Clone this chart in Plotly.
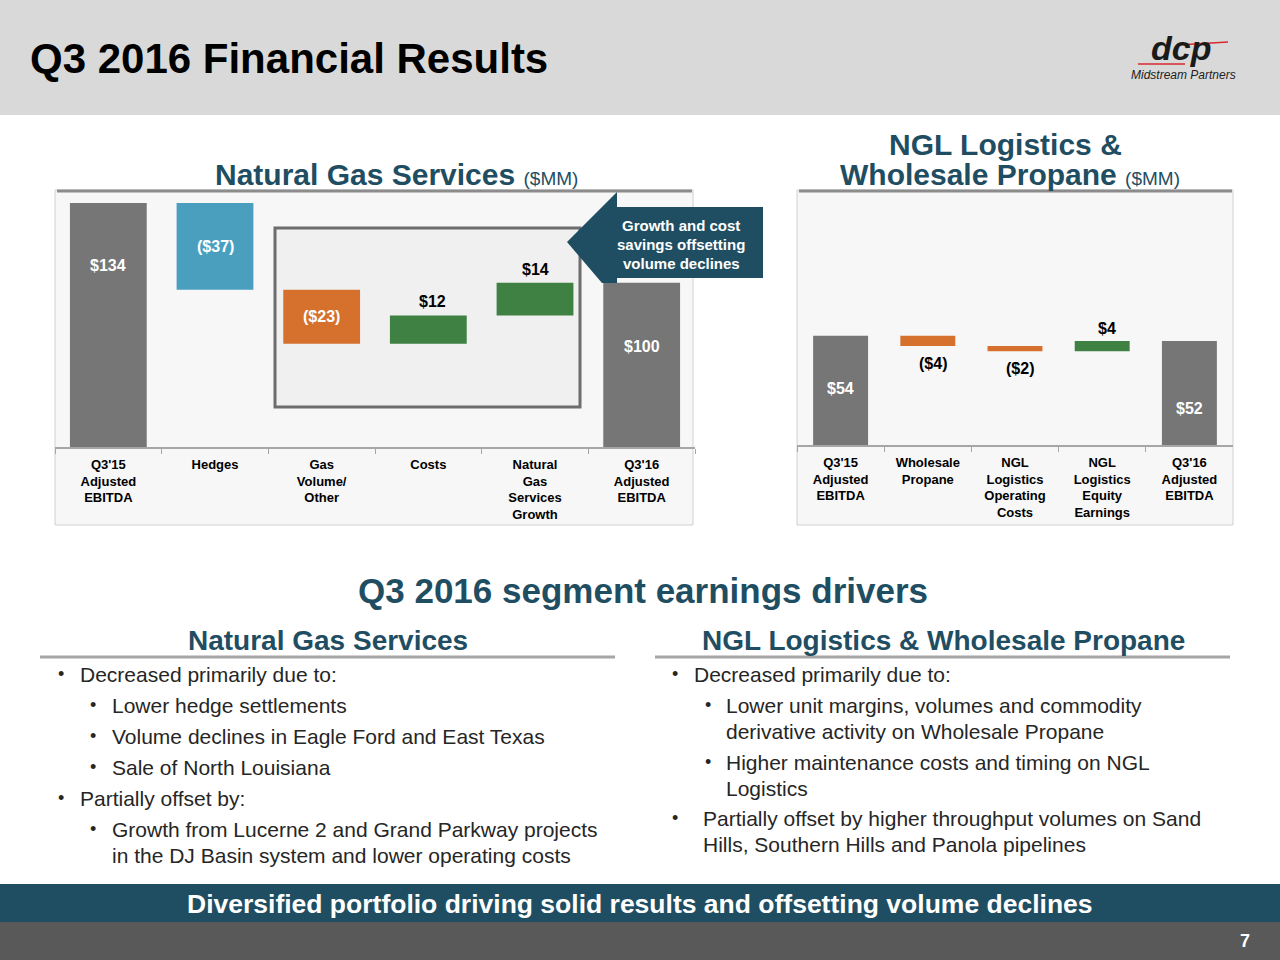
import plotly.graph_objects as go

# ---------------- data ----------------
ngs_categories = ["Q3'15<br>Adjusted<br>EBITDA", "Hedges", "Gas<br>Volume/<br>Other", "Costs",
                  "Natural<br>Gas<br>Services<br>Growth", "Q3'16<br>Adjusted<br>EBITDA"]
ngs_values = [134, -37, -23, 12, 14, 100]
ngs_measure = ["absolute", "relative", "relative", "relative", "relative", "total"]
ngs_labels = ["$134", "($37)", "($23)", "$12", "$14", "$100"]

ngl_categories = ["Q3'15<br>Adjusted<br>EBITDA", "Wholesale<br>Propane", "NGL<br>Logistics<br>Operating<br>Costs",
                  "NGL<br>Logistics<br>Equity<br>Earnings", "Q3'16<br>Adjusted<br>EBITDA"]
ngl_values = [54, -4, -2, 4, 52]
ngl_measure = ["absolute", "relative", "relative", "relative", "total"]
ngl_labels = ["$54", "($4)", "($2)", "$4", "$52"]

ngs_bullets = [
    (0, "Decreased primarily due to:"),
    (1, "Lower hedge settlements"),
    (1, "Volume declines in Eagle Ford and East Texas"),
    (1, "Sale of North Louisiana"),
    (0, "Partially offset by:"),
    (1, "Growth from Lucerne 2 and Grand Parkway projects"),
    (2, "in the DJ Basin system and lower operating costs"),
]
ngl_bullets = [
    (0, "Decreased primarily due to:"),
    (1, "Lower unit margins, volumes and commodity"),
    (2, "derivative activity on Wholesale Propane"),
    (1, "Higher maintenance costs and timing on NGL"),
    (2, "Logistics"),
    (3, "Partially offset by higher throughput volumes on Sand"),
    (4, "Hills, Southern Hills and Panola pipelines"),
]

# ---------------- styles ----------------
GRAY = "#767676"
BLUE = "#4a9fbf"
ORANGE = "#d5702d"
GREEN = "#3f8143"
TEAL = "#1f4e63"
FONT = "Liberation Sans, Arial, sans-serif"

ngs_colors = [GRAY, BLUE, ORANGE, GREEN, GREEN, GRAY]
ngs_text_colors = ["white", "white", "white", "black", "black", "white"]
ngs_shift = [-63, 0, 0, 14, 13, -64]   # pixel offset of labels
ngs_anchor = ["top", "mid", "mid", "top", "top", "top"]

ngl_colors = [GRAY, ORANGE, ORANGE, GREEN, GRAY]
ngl_text_colors = ["white", "black", "black", "black", "white"]
ngl_shift = [-53, -17, -17, 12, -68]
ngl_anchor = ["top", "bottom", "bottom", "top", "top"]

W, H = 1280, 960


def px(x):
    return x / W


def py(y):
    return 1 - y / H


def waterfall(values, measure):
    bases, heights, tops, bottoms = [], [], [], []
    run = 0
    for v, m in zip(values, measure):
        if m == "absolute":
            run = v
            b, t = 0, v
        elif m == "total":
            b, t = 0, v
        else:
            start = run
            run += v
            b, t = min(start, run), max(start, run)
        bases.append(b)
        heights.append(t - b)
        tops.append(t)
        bottoms.append(b)
    return bases, heights, tops, bottoms


fig = go.Figure()

nb, nh, nt, nbot = waterfall(ngs_values, ngs_measure)
fig.add_trace(go.Bar(x=ngs_categories, y=nh, base=nb, marker=dict(color=ngs_colors, line=dict(width=0)),
                     width=0.72, xaxis="x", yaxis="y", hoverinfo="skip", showlegend=False))
lb, lh, lt, lbot = waterfall(ngl_values, ngl_measure)
fig.add_trace(go.Bar(x=ngl_categories, y=lh, base=lb, marker=dict(color=ngl_colors, line=dict(width=0)),
                     width=0.63, xaxis="x2", yaxis="y2", hoverinfo="skip", showlegend=False))

annotations = []
shapes = []


def ann(x, y, text, size, color="#262626", bold=False, xanchor="center", yanchor="middle", italic=False, **kw):
    t = f"<b>{text}</b>" if bold else text
    if italic:
        t = f"<i>{t}</i>"
    annotations.append(dict(x=px(x), y=py(y), xref="paper", yref="paper", text=t, showarrow=False,
                            xanchor=xanchor, yanchor=yanchor,
                            font=dict(family=FONT, size=size, color=color), **kw))


def rect(x0, y0, x1, y1, fill, line_color=None, line_width=0, layer="below"):
    shapes.append(dict(type="rect", xref="paper", yref="paper", x0=px(x0), x1=px(x1), y0=py(y1), y1=py(y0),
                       fillcolor=fill, line=dict(color=line_color or fill, width=line_width), layer=layer))


def line(x0, y0, x1, y1, color, width, layer="below"):
    shapes.append(dict(type="line", xref="paper", yref="paper", x0=px(x0), x1=px(x1), y0=py(y0), y1=py(y1),
                       line=dict(color=color, width=width), layer=layer))


# bar value labels
for i, lab in enumerate(ngs_labels):
    yv = nt[i] if ngs_anchor[i] == "top" else (nbot[i] if ngs_anchor[i] == "bottom" else (nt[i] + nbot[i]) / 2)
    annotations.append(dict(x=ngs_categories[i], y=yv, xref="x", yref="y", text=f"<b>{lab}</b>",
                            showarrow=False, yshift=ngs_shift[i], xshift=4 if i in (3,) else 0,
                            font=dict(family=FONT, size=16, color=ngs_text_colors[i])))
for i, lab in enumerate(ngl_labels):
    yv = lt[i] if ngl_anchor[i] == "top" else (lbot[i] if ngl_anchor[i] == "bottom" else (lt[i] + lbot[i]) / 2)
    annotations.append(dict(x=ngl_categories[i], y=yv, xref="x2", yref="y2", text=f"<b>{lab}</b>",
                            showarrow=False, yshift=ngl_shift[i], xshift=5 if i in (1, 2, 3) else 0,
                            font=dict(family=FONT, size=16, color=ngl_text_colors[i])))

# header band
rect(0, 0, 1280, 115, "#d9d9d9")
ann(28, 58, "Q3 2016 Financial Results", 42, color="black", bold=True, xanchor="left")
# logo
line(1178, 45, 1228, 42, "#d9272e", 1.5, layer="above")
line(1138, 64, 1185, 64, "#d9272e", 1.5, layer="above")
ann(1181, 48, "dcp", 34, color="#1a1a1a", bold=True, italic=True)
ann(1183, 75, "Midstream Partners", 12, color="#222222", italic=True)

# chart panels
rect(55, 190, 693, 525, "#f7f7f7", "#d0d0d0", 1)
line(57, 191, 692, 191, "#8c8c8c", 3)
rect(275, 228, 580, 407, "#f0f0f0", "#6d6d6d", 3)
rect(797, 190, 1233, 525, "#f7f7f7", "#d0d0d0", 1)
line(799, 191, 1232, 191, "#8c8c8c", 3)

# callout arrow
path = (f"M {px(567)},{py(242)} L {px(617)},{py(192)} L {px(617)},{py(207)} L {px(763)},{py(207)} "
        f"L {px(763)},{py(278)} L {px(617)},{py(278)} L {px(617)},{py(283)} L {px(602)},{py(283)} Z")
shapes.append(dict(type="path", xref="paper", yref="paper", path=path, fillcolor=TEAL,
                   line=dict(color=TEAL, width=0), layer="above"))
ann(681, 225, "Growth and cost", 15, color="white", bold=True)
ann(681, 244, "savings offsetting", 15, color="white", bold=True)
ann(681, 263, "volume declines", 15, color="white", bold=True)

# chart titles
ann(396, 175, f"<b>Natural Gas Services</b> <span style='font-size:19px'>($MM)</span>", 30, color=TEAL)
ann(1005, 145, "NGL Logistics &", 30, color=TEAL, bold=True)
ann(1010, 175, f"<b>Wholesale Propane</b> <span style='font-size:19px'>($MM)</span>", 30, color=TEAL)

# segment drivers
ann(643, 590, "Q3 2016 segment earnings drivers", 35, color=TEAL, bold=True)
ann(328, 640, "Natural Gas Services", 28, color=TEAL, bold=True)
ann(943, 640, "NGL Logistics & Wholesale Propane", 28, color=TEAL, bold=True)
line(40, 657, 615, 657, "#a6a6a6", 3)
line(655, 657, 1230, 657, "#a6a6a6", 3)

left_y = [674, 705, 736, 767, 798, 829, 855]
left_pos = {0: (56, 78), 1: (88, 110), 2: (None, 110)}
for (lvl, txt), y in zip(ngs_bullets, left_y):
    bx, tx = left_pos[lvl]
    if bx is not None:
        ann(bx, y, "•", 18, xanchor="left")
    ann(tx, y, txt, 21, xanchor="left")

right_y = [674, 705, 731, 762, 788, 818, 844]
right_pos = {0: (670, 692), 1: (703, 724), 2: (None, 724), 3: (670, 701), 4: (None, 701)}
for (lvl, txt), y in zip(ngl_bullets, right_y):
    bx, tx = right_pos[lvl]
    if bx is not None:
        ann(bx, y, "•", 18, xanchor="left")
    ann(tx, y, txt, 21, xanchor="left")

# bottom bands
rect(0, 884, 1280, 922, TEAL)
rect(0, 922, 1280, 960, "#595959")
ann(640, 904, "Diversified portfolio driving solid results and offsetting volume declines", 26.5,
    color="white", bold=True)
ann(1245, 941, "7", 18, color="white", bold=True)

axis_common = dict(showgrid=False, zeroline=False, fixedrange=True)
xcommon = dict(type="category", tickson="boundaries", ticks="outside", ticklen=5, tickcolor="#a6a6a6",
               tickwidth=1, showline=True, linecolor="#a6a6a6", linewidth=2, ticklabelstandoff=4,
               tickfont=dict(family=FONT, size=13, color="black"), **axis_common)

fig.update_layout(
    width=W, height=H, margin=dict(l=0, r=0, t=0, b=0),
    paper_bgcolor="white", plot_bgcolor="rgba(0,0,0,0)",
    bargap=0.28,
    xaxis=dict(domain=[px(55), px(695)], anchor="y", **xcommon),
    yaxis=dict(domain=[py(447), py(190)], range=[30, 139.5], showticklabels=False, anchor="x", **axis_common),
    xaxis2=dict(domain=[px(797), px(1233)], anchor="y2", **xcommon),
    yaxis2=dict(domain=[py(445), py(190)], range=[12, 110], showticklabels=False, anchor="x2", **axis_common),
    annotations=annotations, shapes=shapes,
)
fig.update_xaxes(tickprefix="<b>", ticksuffix="</b>")

fig.write_html("out.html", config={"displayModeBar": False},
               post_script="document.body.style.margin='0';document.body.style.overflow='hidden';")
